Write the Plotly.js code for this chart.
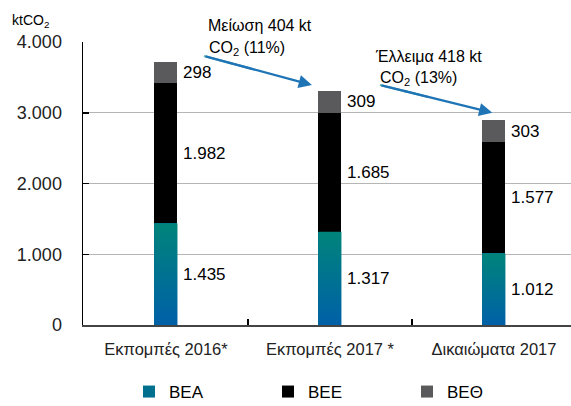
<!DOCTYPE html>
<html>
<head>
<meta charset="utf-8">
<script src="https://cdn.plot.ly/plotly-3.0.1.min.js"></script>
<style>html,body{margin:0;padding:0;background:#fff}#chart{width:571px;height:406px}</style>
</head>
<body>
<div id="chart"></div>
<script>
var categories = ['Εκπομπές 2016*', 'Εκπομπές 2017 *', 'Δικαιώματα 2017'];
var seriesNames = ['ΒΕΑ', 'ΒΕΕ', 'ΒΕΘ'];
var bea = [1435, 1317, 1012];
var bee = [1982, 1685, 1577];
var beo = [298, 309, 303];
var yTicks = [0, 1000, 2000, 3000, 4000];

var pos = categories.map(function(_, i){ return i; });
var W = 0.14;
var FONT = '"Liberation Sans", Arial, sans-serif';

var traces = [
  {type:'bar', x:pos, y:bea, name:seriesNames[0], width:W, marker:{color:'#00708f'}, hoverinfo:'skip'},
  {type:'bar', x:pos, y:bee, name:seriesNames[1], width:W, marker:{color:'#000000'}, hoverinfo:'skip'},
  {type:'bar', x:pos, y:beo, name:seriesNames[2], width:W, marker:{color:'#5a5a5c'}, hoverinfo:'skip'}
];
// gradient overlay for the bottom segments
pos.forEach(function(i){
  traces.push({
    type:'scatter', mode:'lines', showlegend:false, hoverinfo:'skip',
    x:[i-W/2, i+W/2, i+W/2, i-W/2, i-W/2],
    y:[0, 0, bea[i], bea[i], 0],
    fill:'toself', line:{width:0},
    fillgradient:{type:'vertical', colorscale:[[0,'#0060a8'],[1,'#00847a']]}
  });
});

var annotations = [];
pos.forEach(function(i){
  var vals = [bea[i], bee[i], beo[i]];
  var base = 0;
  vals.forEach(function(v){
    annotations.push({
      x: i + W/2 + 0.022, y: base + v/2, xref:'x', yref:'y',
      text: v.toLocaleString('de-DE'), showarrow:false, xanchor:'left', yanchor:'middle',
      font:{family:FONT, size:17, color:'#000'}
    });
    base += v;
  });
});

annotations.push({x:-0.15, y:1.035, xref:'paper', yref:'paper', text:'ktCO<sub>2</sub>', showarrow:false,
  xanchor:'left', yanchor:'bottom', font:{family:FONT, size:14, color:'#000'}});

// arrow annotations
annotations.push({x:0.89, y:3392, ax:0.232, ay:3802, xref:'x', yref:'y', axref:'x', ayref:'y',
  text:'', showarrow:true, arrowhead:2, arrowsize:1.2, arrowwidth:2.2, arrowcolor:'#1f74b6', standoff:0, startstandoff:0});
annotations.push({x:1.99, y:3000, ax:1.305, ay:3392, xref:'x', yref:'y', axref:'x', ayref:'y',
  text:'', showarrow:true, arrowhead:2, arrowsize:1.2, arrowwidth:2.2, arrowcolor:'#1f74b6', standoff:0, startstandoff:0});

function txt(xp, yp, t){
  annotations.push({x:(xp-83)/488, y:(325-yp)/283, xref:'paper', yref:'paper', text:t,
    showarrow:false, xanchor:'left', yanchor:'middle', font:{family:FONT, size:16, color:'#000'}});
}
txt(206, 25, 'Μείωση 404 kt');
txt(207, 48, 'CO<sub>2</sub> (11%)');
txt(373, 56, 'Έλλειμα 418 kt');
txt(378, 78, 'CO<sub>2</sub> (13%)');

var shapes = [
  {type:'line', xref:'x', yref:'y', x0:0.232, y0:3802, x1:0.40, y1:3698, line:{color:'#5eb0b2', width:2.2}},
  {type:'line', xref:'x', yref:'y', x0:0.38, y0:3710, x1:0.52, y1:3623, line:{color:'#3e94b4', width:2.2}},
  {type:'line', xref:'x', yref:'y', x0:1.305, y0:3392, x1:1.47, y1:3298, line:{color:'#5eb0b2', width:2.2}},
  {type:'line', xref:'x', yref:'y', x0:1.45, y0:3309, x1:1.60, y1:3223, line:{color:'#3e94b4', width:2.2}}
];

var layout = {
  width:571, height:406,
  margin:{l:83, r:0, t:42, b:81},
  paper_bgcolor:'#fff', plot_bgcolor:'#fff',
  separators:',.',
  barmode:'stack',
  showlegend:true,
  font:{family:FONT, size:16, color:'#000'},
  xaxis:{type:'linear', range:[-0.506, 2.47], tickmode:'array', tickvals:pos, ticktext:categories,
    ticks:'', showgrid:false, zeroline:false, showline:true, linecolor:'#444', linewidth:1.5,
    ticklabelstandoff:9, tickfont:{family:FONT, size:16.5, color:'#222'},
    minor:{tickmode:'array', tickvals:[0.5, 1.5], ticks:'inside', ticklen:6, tickcolor:'#000', tickwidth:1.5, showgrid:false}},
  yaxis:{range:[0, 4000], tickmode:'array', tickvals:yTicks, tickformat:',d',
    ticks:'inside', ticklen:6, tickcolor:'#000', tickwidth:1.5,
    showgrid:true, gridcolor:'#b5b5b5', gridwidth:1, zeroline:false,
    showline:true, linecolor:'#000', linewidth:1.5, ticklabelstandoff:16,
    tickfont:{family:FONT, size:18, color:'#222'}},
  legend:{orientation:'h', xref:'container', yref:'container', x:129/571, xanchor:'left', y:1-392/406, yanchor:'middle',
    entrywidth:94, entrywidthmode:'pixels', traceorder:'normal',
    font:{family:FONT, size:17, color:'#000'}},
  annotations:annotations,
  shapes:shapes
};

Plotly.newPlot('chart', traces, layout, {displayModeBar:false, staticPlot:true});
</script>
</body>
</html>
